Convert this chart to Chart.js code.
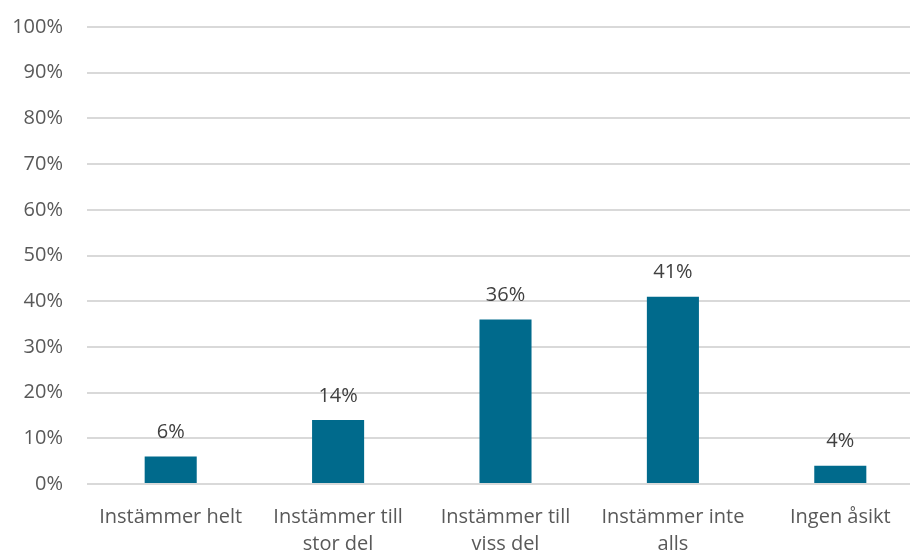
<!DOCTYPE html>
<html>
<head>
<meta charset="utf-8">
<script src="https://cdn.jsdelivr.net/npm/chart.js@4"></script>
<style>
  html, body { margin: 0; padding: 0; background: #fff; overflow: hidden; }
  #wrap { width: 924px; height: 552px; position: relative; }
</style>
</head>
<body>
<div id="wrap"><canvas id="chart"></canvas></div>
<script>
const categories = [
  ['Instämmer helt'],
  ['Instämmer till', 'stor del'],
  ['Instämmer till', 'viss del'],
  ['Instämmer inte', 'alls'],
  ['Ingen åsikt']
];
const values = [6, 14, 36, 41, 4];
const yTicks = [0, 10, 20, 30, 40, 50, 60, 70, 80, 90, 100];

const textColor = '#595959';
const fontFamily = "'Open Sans', 'Liberation Sans', sans-serif";

// etiketter ovanför staplarna
const valueLabels = {
  id: 'valueLabels',
  afterDatasetsDraw(chart) {
    const ctx = chart.ctx;
    const meta = chart.getDatasetMeta(0);
    ctx.save();
    ctx.fillStyle = '#404040';
    ctx.font = '20px ' + fontFamily;
    ctx.textAlign = 'center';
    ctx.textBaseline = 'bottom';
    meta.data.forEach((bar, i) => {
      ctx.fillText(values[i] + '%', bar.x, bar.y - 14);
    });
    ctx.restore();
  }
};

new Chart(document.getElementById('chart'), {
  type: 'bar',
  data: {
    labels: categories,
    datasets: [{
      data: values,
      backgroundColor: '#006a8c',
      borderWidth: 0,
      categoryPercentage: 1,
      barPercentage: 0.311
    }]
  },
  options: {
    responsive: true,
    maintainAspectRatio: false,
    animation: false,
    layout: { padding: { top: 27, right: 0, left: 0, bottom: 0 } },
    plugins: {
      legend: { display: false },
      tooltip: { enabled: false }
    },
    scales: {
      x: {
        grid: { display: false, drawTicks: false },
        border: { display: false },
        ticks: {
          color: textColor,
          font: { family: fontFamily, size: 20, lineHeight: 1.35 },
          padding: 20,
          maxRotation: 0,
          autoSkip: false
        },
        afterFit(axis) {
          axis.height = 68;
          axis.paddingLeft = 0;
          axis.paddingRight = 0;
        }
      },
      y: {
        min: 0,
        max: 100,
        afterBuildTicks(axis) { axis.ticks = yTicks.map(v => ({ value: v })); },
        grid: { color: '#d9d9d9', lineWidth: 2, drawTicks: false },
        border: { display: false },
        ticks: {
          color: textColor,
          font: { family: fontFamily, size: 20 },
          padding: 24,
          callback: v => v + '%'
        },
        afterFit(axis) {
          axis.width = 87;
          axis.paddingTop = 0;
          axis.paddingBottom = 0;
        }
      }
    }
  },
  plugins: [valueLabels]
});
</script>
</body>
</html>
